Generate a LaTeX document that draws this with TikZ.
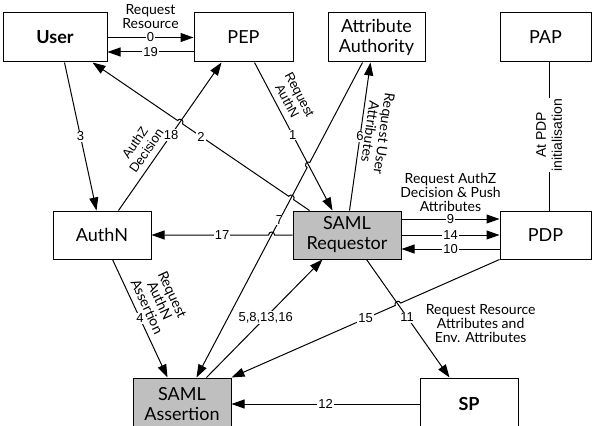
\documentclass[tikz,border=0pt]{standalone}
\usepackage{fontspec}
\setmainfont{Lato}
\newfontfamily\arialfont{Liberation Sans}
\usetikzlibrary{arrows.meta,calc}
\definecolor{samlgray}{RGB}{191,191,191}

\begin{document}
\begin{tikzpicture}[x=1pt, y=-1pt, line width=1pt,
    >={Triangle[length=13pt,width=9pt]},
    box/.style={draw, minimum height=49pt, inner sep=2pt, align=center, font=\fontsize{18}{20}\selectfont},
    saml/.style={box, fill=samlgray},
    num/.style={fill=white, inner sep=1pt, font=\arialfont\fontsize{13}{14}\selectfont},
    lbl/.style={inner sep=1pt, align=center, font=\fontsize{14}{14}\selectfont},
    albl/.style={inner sep=1pt, align=center, font=\arialfont\fontsize{13}{14}\selectfont}]
  \useasboundingbox (0,0) rectangle (593,425);

  \node[box, minimum width=104pt, font=\fontsize{18}{20}\selectfont\bfseries] (user) at (55,37.5) {User};
  \node[box, minimum width=99pt] (pep) at (243.5,37.5) {PEP};
  \node[box, minimum width=97pt] (aa) at (376.5,37.5) {Attribute\\Authority};
  \node[box, minimum width=91pt] (pap) at (545.5,37.5) {PAP};
  \node[box, minimum width=98pt, minimum height=48pt] (authn) at (102,235) {AuthN};
  \node[saml, minimum width=108pt, minimum height=48pt] (req) at (347,235) {SAML\\Requestor};
  \node[box, minimum width=91pt, minimum height=48pt] (pdp) at (545.5,235) {PDP};
  \node[saml, minimum width=98pt, minimum height=52pt] (assert) at (182,404) {SAML\\Assertion};
  \node[box, minimum width=98pt, minimum height=52pt, font=\fontsize{18}{20}\selectfont\bfseries] (sp) at (469,404) {SP};

  % attachment points
  \coordinate (u2) at ([xshift=90pt]user.south west);
  \coordinate (r2) at ([xshift=17pt]req.north west);
  \coordinate (a18) at ([xshift=66pt]authn.north west);
  \coordinate (p18) at ([xshift=28pt]pep.south west);
  \coordinate (p1) at ([xshift=61pt]pep.south west);
  \coordinate (r1) at ([xshift=40pt]req.north west);
  \coordinate (r6) at ([xshift=57pt]req.north west);
  \coordinate (a6) at ([xshift=43pt]aa.south west);
  \coordinate (a7) at ([xshift=35pt]aa.south west);
  \coordinate (s7) at ([xshift=64pt]assert.north west);
  \coordinate (r17) at (req.west);
  \coordinate (a17) at (authn.east);
  \coordinate (r11) at ([xshift=74pt]req.south west);
  \coordinate (s11) at ([xshift=30pt]sp.north west);
  \coordinate (p15) at (pdp.south west);
  \coordinate (s15) at (assert.north east);

  % line hops
  \coordinate (h2a) at (intersection of r2--u2 and a7--s7);
  \coordinate (h2b) at (intersection of r2--u2 and a18--p18);
  \coordinate (h7) at (intersection of a7--s7 and p1--r1);
  \coordinate (h17) at (intersection of r17--a17 and a7--s7);
  \coordinate (h15) at (intersection of p15--s15 and r11--s11);

  \draw[->] (user.east) -- node[num] {0} node[lbl, above=7pt] {Request\\Resource} (pep.west);
  \draw[->] ([yshift=-14.5pt]pep.west) -- node[num] {19} ([yshift=-14.5pt]user.east);
  \draw[->] ([xshift=62pt]user.south west) -- node[num] {3} ([xshift=44pt]authn.north west);
  \draw[->] (a18) -- node[num, pos=0.51] {18} node[albl, pos=0.36, sloped, above=5pt] {AuthZ\\Decision} (p18);
  \draw[->] (p1) -- node[num, pos=0.49] {1} node[albl, pos=0.295, sloped, above=5pt] {Request\\AuthN} (r1);
  \draw[<-] (a6) -- node[num] {6} node[lbl, pos=0.46, sloped, above=3pt, allow upside down] {Request User\\Attributes} (r6);

  \draw[->] let \p1=($(u2)-(r2)$), \n1={atan2(\y1,\x1)} in
    (r2) -- ($(h2a)!3pt!(r2)$) arc[start angle=\n1+180, delta angle=180, radius=3pt]
    -- ($(h2b)!3pt!(r2)$) arc[start angle=\n1+180, delta angle=180, radius=3pt] -- (u2);
  \path (r2) -- node[num] {2} (u2);

  \draw[->] let \p1=($(s7)-(a7)$), \n1={atan2(\y1,\x1)} in
    (a7) -- ($(h7)!3pt!(a7)$) arc[start angle=\n1+180, delta angle=180, radius=3pt] -- (s7);
  \path (a7) -- node[num] {7} (s7);

  \draw[->] let \p1=($(a17)-(r17)$), \n1={atan2(\y1,\x1)} in
    (r17) -- ($(h17)!3pt!(r17)$) arc[start angle=\n1+180, delta angle=180, radius=3pt] -- (a17);
  \path (r17) -- node[num] {17} (a17);

  \draw[->] ([yshift=16pt]req.east) -- node[num] {9} node[lbl, above=6pt] {Request AuthZ\\Decision \& Push\\Attributes} ([yshift=16pt]pdp.west);
  \draw[->] (req.east) -- node[num] {14} (pdp.west);
  \draw[->] ([yshift=-14pt]pdp.west) -- node[num] {10} ([yshift=-14pt]req.east);
  \draw ([xshift=3.5pt]pap.south) -- node[albl, fill=white, rotate=90, pos=0.49, font=\arialfont\fontsize{14}{16}\selectfont] {At PDP\\initialisation} ([xshift=3.5pt]pdp.north);

  \draw[->] ([xshift=60pt]authn.south west) -- node[num] {4} node[lbl, pos=0.44, sloped, above=5pt] {Request\\AuthN\\Assertion} ([xshift=35pt]assert.north west);
  \draw[->] ([xshift=74pt]assert.north west) -- node[num, pos=0.51] {5,8,13,16} ([xshift=30pt]req.south west);
  \draw[->] (r11) -- node[num, pos=0.49] {11} node[lbl, pos=0.54, right=13pt] {Request Resource\\Attributes and\\Env. Attributes} (s11);

  \draw[->] let \p1=($(s15)-(p15)$), \n1={atan2(\y1,\x1)} in
    (p15) -- ($(h15)!3pt!(p15)$) arc[start angle=\n1+180, delta angle=180, radius=3pt] -- (s15);
  \path (p15) -- node[num] {15} (s15);

  \draw[->] (sp.west) -- node[num] {12} (assert.east);
\end{tikzpicture}
\end{document}
